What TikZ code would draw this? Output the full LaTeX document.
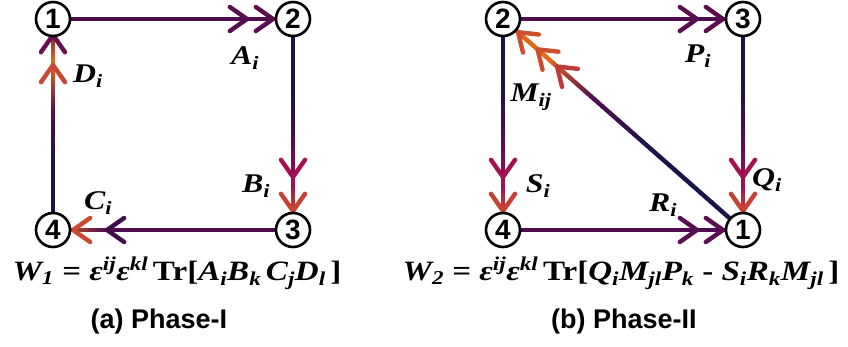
\documentclass[tikz,border=0pt]{standalone}
\usepackage{fontspec}
\setmainfont{Liberation Serif}
\setsansfont{Liberation Sans}
\newfontfamily\wideserif[FakeStretch=1.18]{Liberation Serif}
\usepackage{xcolor}
\usepackage{tikz}
\usetikzlibrary{calc,backgrounds}
\definecolor{Navy}{HTML}{17154A}
\definecolor{Plum}{HTML}{4D0D4F}
\definecolor{Crimson}{HTML}{A3124F}
\definecolor{Orange}{HTML}{E0691E}
\newcommand{\subx}[1]{\textsubscript{#1}}
\newcommand{\supx}[1]{\textsuperscript{#1}}
% colour run along a connector: from, to, t0, t1, colour at t0, colour at t1
\newcommand{\gradline}[6]{%
  \foreach \k in {0,...,15}{
    \pgfmathsetmacro{\ta}{#3+(#4-#3)*\k/16}
    \pgfmathsetmacro{\tb}{#3+(#4-#3)*(\k+1)/16}
    \pgfmathtruncatemacro{\mx}{100*\k/15}
    \draw[wire,#6!\mx!#5] ($(#1)!\ta!(#2)$) -- ($(#1)!\tb!(#2)$);
  }}
% open chevron pointing at 'to': from, to, distance from centre of 'to', colour
\newcommand{\chev}[4]{%
  \coordinate (tip) at ($(#2)!#3!(#1)$);
  \draw[wire,#4,line join=round] ($(tip)!21pt!35:(#1)$) -- (tip) -- ($(tip)!21pt!-35:(#1)$);
}

\begin{document}
\begin{tikzpicture}[x=1pt,y=-1pt,
  vertex/.style={circle,draw=black,line width=2.6pt,fill=white,minimum size=34pt,
    inner sep=0pt,font=\sffamily\bfseries\fontsize{28}{28}\selectfont},
  wire/.style={line width=4.4pt,line cap=round},
  lbl/.style={font=\wideserif\bfseries\itshape\fontsize{27}{27}\selectfont,inner sep=0pt},
  formula/.style={font=\wideserif\bfseries\fontsize{28}{28}\selectfont,inner sep=0pt,anchor=base},
  caption/.style={font=\sffamily\bfseries\fontsize{27}{27}\selectfont,inner sep=0pt}]
\useasboundingbox (0,0) rectangle (848,347);

% Phase-I: square loop 1 -> 2 -> 3 -> 4 -> 1
\node[vertex] (i1) at (53,19) {1};
\node[vertex] (i2) at (293,19) {2};
\node[vertex] (i3) at (293,230) {3};
\node[vertex] (i4) at (53,230) {4};

\begin{scope}[on background layer]
  \draw[wire,Plum] (i1) -- (i2);
  \chev{i1}{i2}{46pt}{Plum!85!Crimson}
  \chev{i1}{i2}{20pt}{Plum!85!Crimson}

  \gradline{i2}{i3}{0}{0.35}{Navy}{Navy}
  \gradline{i2}{i3}{0.35}{0.58}{Navy}{Plum}
  \gradline{i2}{i3}{0.58}{0.8}{Plum}{Crimson}
  \gradline{i2}{i3}{0.8}{1}{Crimson}{Orange}
  \chev{i2}{i3}{53pt}{Crimson}
  \chev{i2}{i3}{19pt}{Crimson!45!Orange}

  \gradline{i3}{i4}{0}{0.78}{Plum}{Plum}
  \gradline{i3}{i4}{0.78}{1}{Plum}{Orange}
  \chev{i3}{i4}{54pt}{Plum!80!Navy}
  \chev{i3}{i4}{20pt}{Crimson!35!Orange}

  \gradline{i4}{i1}{0}{0.3}{Navy}{Navy}
  \gradline{i4}{i1}{0.3}{0.55}{Navy}{Plum}
  \gradline{i4}{i1}{0.55}{0.8}{Plum}{Orange}
  \gradline{i4}{i1}{0.8}{1}{Orange}{Plum}
  \chev{i4}{i1}{46pt}{Crimson!40!Orange}
  \chev{i4}{i1}{16pt}{Plum!70!Crimson}
\end{scope}

\node[lbl] (la) at (245,58) {A\subx{i}};
\node[lbl] (ld) at (88,76) {D\subx{i}};
\node[lbl] (lb) at (256,186) {B\subx{i}};
\node[lbl] (lc) at (98,203) {C\subx{i}};

\node[formula] (wone) at (177,280)
  {\textit{W\subx{1}} = \textit{ε\supx{ij}ε\supx{kl}}\,Tr[\textit{A\subx{i}B\subx{k}\,C\subx{j}D\subx{l}}\,]};
\node[caption] (capone) at (159,322) {(a) Phase-I};

% Phase-II: square with diagonal 1 -> 2
\node[vertex] (ii2) at (503,19) {2};
\node[vertex] (ii3) at (743,19) {3};
\node[vertex] (ii1) at (743,230) {1};
\node[vertex] (ii4) at (503,230) {4};

\begin{scope}[on background layer]
  \draw[wire,Plum] (ii2) -- (ii3);
  \chev{ii2}{ii3}{46pt}{Plum!85!Crimson}
  \chev{ii2}{ii3}{20pt}{Plum!85!Crimson}

  \gradline{ii3}{ii1}{0}{0.3}{Navy}{Navy}
  \gradline{ii3}{ii1}{0.3}{0.55}{Navy}{Plum}
  \gradline{ii3}{ii1}{0.55}{0.8}{Plum}{Crimson}
  \gradline{ii3}{ii1}{0.8}{1}{Crimson}{Orange}
  \chev{ii3}{ii1}{53pt}{Crimson}
  \chev{ii3}{ii1}{19pt}{Crimson!45!Orange}

  \gradline{ii2}{ii4}{0}{0.3}{Navy}{Navy}
  \gradline{ii2}{ii4}{0.3}{0.55}{Navy}{Plum}
  \gradline{ii2}{ii4}{0.55}{0.8}{Plum}{Crimson}
  \gradline{ii2}{ii4}{0.8}{1}{Crimson}{Orange}
  \chev{ii2}{ii4}{53pt}{Crimson}
  \chev{ii2}{ii4}{19pt}{Crimson!45!Orange}

  \draw[wire,Plum] (ii4) -- (ii1);
  \chev{ii4}{ii1}{46pt}{Plum!85!Crimson}
  \chev{ii4}{ii1}{20pt}{Plum!85!Crimson}

  \gradline{ii1}{ii2}{0}{0.35}{Navy}{Navy}
  \gradline{ii1}{ii2}{0.35}{0.62}{Navy}{Plum}
  \gradline{ii1}{ii2}{0.62}{0.82}{Plum}{Orange}
  \gradline{ii1}{ii2}{0.82}{1}{Orange}{Orange}
  \chev{ii1}{ii2}{72pt}{Crimson!55!Orange}
  \chev{ii1}{ii2}{46pt}{Crimson!30!Orange}
  \chev{ii1}{ii2}{20pt}{Crimson!30!Orange}
\end{scope}

\node[lbl] (lp) at (698,56) {P\subx{i}};
\node[lbl] (lm) at (531,97) {M\subx{ij}};
\node[lbl] (ls) at (538,186) {S\subx{i}};
\node[lbl] (lq) at (767,180) {Q\subx{i}};
\node[lbl] (lr) at (663,205) {R\subx{i}};

\node[formula] (wtwo) at (621,280)
  {\textit{W\subx{2}} = \textit{ε\supx{ij}ε\supx{kl}}\,Tr[\textit{Q\subx{i}M\subx{jl}P\subx{k}} - \textit{S\subx{i}R\subx{k}M\subx{jl}}\,]};
\node[caption] (captwo) at (624,322) {(b) Phase-II};
\end{tikzpicture}
\end{document}
